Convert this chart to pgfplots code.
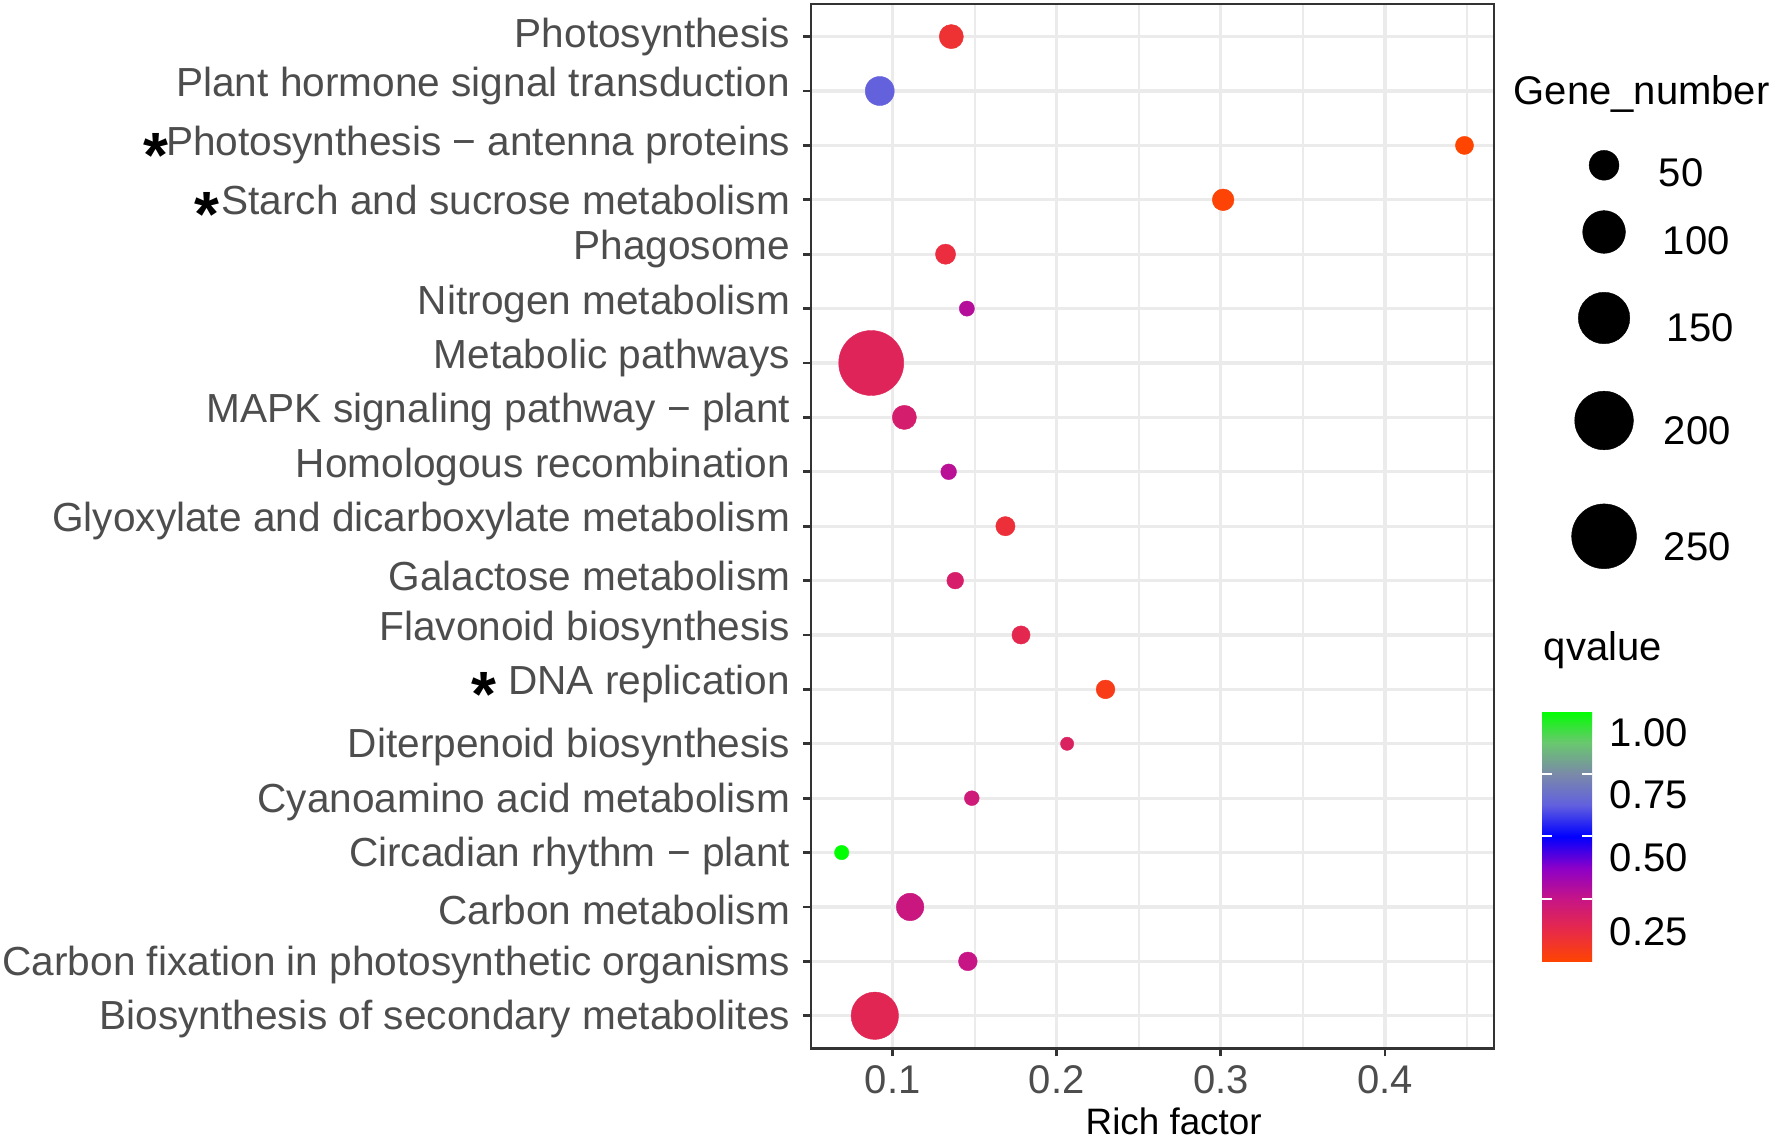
\documentclass[border=0pt]{standalone}
\usepackage{pgfplots}
\pgfplotsset{compat=1.18}
\usepackage{fontspec}
\setmainfont{Liberation Sans}
\definecolor{gridc}{HTML}{EBEBEB}
\definecolor{axc}{HTML}{333333}
\definecolor{txtc}{HTML}{4D4D4D}
\newcommand{\stm}{{\color{black}\raisebox{-5.5pt}[0pt][0pt]{\fontsize{16}{16}\selectfont\bfseries *}}}
\newcommand{\up}[1]{\raisebox{1.25pt}[\height][\depth]{#1}}
\newcommand{\dn}[1]{\raisebox{-0.85pt}[\height][\depth]{#1}}
\pgfplotstableread{
y x n q
19 0.1357 37 0.09
18 0.0921 48 0.63
17 0.4485 29 0.0
16 0.3014 33 0.01
15 0.1322 31 0.11
14 0.1452 27.3 0.29
13 0.0869 252 0.16
12 0.1071 37 0.20
11 0.1341 27.5 0.28
10 0.1687 30 0.10
9 0.1381 28 0.195
8 0.1782 29 0.14
7 0.2297 29.5 0.04
6 0.2063 27 0.174
5 0.1482 27.2 0.223
4 0.0689 27.1 1.0
3 0.1106 44 0.24
2 0.1458 29.5 0.25
1 0.0891 125 0.15
}\genedata
\pgfplotstableread{
x y n
1604 165.3 50
1604 232 100
1604 318 150
1604 420.5 200
1604 536.3 250
}\sizelegend
\begin{document}
\begin{tikzpicture}
\path (0,0) rectangle (443.5pt,285.5pt);
\begin{axis}[
  at={(202.75pt,23.4pt)}, anchor=south west,
  scale only axis, width=170.75pt, height=261.1pt,
  xmin=0.0502, xmax=0.4665, ymin=0.4, ymax=19.6,
  xtick={0.1,0.2,0.3,0.4},
  minor xtick={0.15,0.25,0.35,0.45},
  ytick={1,...,19},
  yticklabels={
    {\dn{Biosynthesis of secondary metabolites}},
    {\dn{Carbon fixation in photosynthetic organisms}},
    {\dn{Carbon metabolism}},
    {\dn{Circadian rhythm − plant}},
    {\dn{Cyanoamino acid metabolism}},
    {\dn{Diterpenoid biosynthesis}},
    {\up{\stm\ DNA replication}},
    {\up{Flavonoid biosynthesis}},
    {\up{Galactose metabolism}},
    {\up{Glyoxylate and dicarboxylate metabolism}},
    {\up{Homologous recombination}},
    {\up{MAPK signaling pathway − plant}},
    {\up{Metabolic pathways}},
    {\up{Nitrogen metabolism}},
    {\up{Phagosome}},
    {\stm\kern0.6pt Starch and sucrose metabolism},
    {\stm\kern-0.6pt Photosynthesis − antenna proteins},
    {\up{Plant hormone signal transduction}},
    Photosynthesis},
  /pgf/number format/assume math mode=true,
  xtick pos=bottom, ytick pos=left,
  grid=both,
  major grid style={gridc, line width=0.8pt},
  minor grid style={gridc, line width=0.45pt},
  axis line style={axc, line width=0.7pt},
  tick align=outside,
  major tick length=2pt,
  minor tick length=0pt,
  tick style={axc, line width=0.7pt},
  ticklabel style={text=txtc},
  xticklabel style={font=\fontsize{10}{12}\selectfont, anchor=north, inner sep=0pt, yshift=-2.2pt},
  yticklabel style={font=\fontsize{10.15}{12}\selectfont, anchor=east, inner sep=0pt, xshift=-3.0pt},
  xlabel={Rich factor},
  xlabel style={at={(axis description cs:0.531,0)}, anchor=base, yshift=-21.5pt, inner sep=0pt, font=\fontsize{9.2}{11}\selectfont, text=black},
  point meta min=0, point meta max=1,
  colormap={qmap}{
    rgb255(0)=(255,69,0)
    rgb255(1)=(232,42,72)
    rgb255(2)=(199,21,133)
    rgb255(3)=(140,0,200)
    rgb255(4)=(0,0,255)
    rgb255(5)=(98,96,222)
    rgb255(6)=(122,138,168)
    rgb255(7)=(105,200,110)
    rgb255(8)=(0,255,0)
  },
  colorbar,
  colorbar style={
    at={(parent axis.south east)}, anchor=south west,
    xshift=3.5pt, yshift=21.6pt,
    scale only axis, width=12.5pt, height=62.75pt,
    grid=none,
    ytick={0.25,0.5,0.75}, yticklabels={},
    axis line style={draw=none},
    ytick pos=both,
    tick align=inside, major tick length=2.5pt,
    tick style={white, line width=0.5pt},
  },
]
\addplot[scatter, only marks, mark=*,
  point meta=explicit,
  visualization depends on={\thisrow{n} \as \gn},
  scatter/use mapped color={draw=mapped color, fill=mapped color},
  scatter/@pre marker code/.append style={/tikz/mark size={(13.3+51.7*sqrt((\gn-27)/225))/8}},
  mark options={line width=0.1pt},
] table[x=x, y=y, meta=q] {\genedata};
\end{axis}
\begin{axis}[
  at={(0pt,0pt)}, anchor=south west,
  scale only axis, width=443.5pt, height=285.5pt,
  xmin=0, xmax=1774, ymin=0, ymax=1142, y dir=reverse,
  hide axis, clip=false,
]
\addplot[scatter, only marks, mark=*,
  visualization depends on={\thisrow{n} \as \gn},
  scatter/use mapped color={draw=black, fill=black},
  scatter/@pre marker code/.append style={/tikz/mark size={(13.3+51.7*sqrt((\gn-27)/225))/8}},
  mark options={line width=0.1pt},
] table[x=x, y=y] {\sizelegend};
\begin{scope}[every node/.style={font=\fontsize{10}{12}\selectfont, text=black, inner sep=0pt}]
\node[anchor=base west] at (axis cs:1513,105) {Gene\_number};
\node[anchor=base west] at (axis cs:1658,186.7) {50};
\node[anchor=base west] at (axis cs:1662,255) {100};
\node[anchor=base west] at (axis cs:1666,341.7) {150};
\node[anchor=base west] at (axis cs:1663,445) {200};
\node[anchor=base west] at (axis cs:1663,560) {250};
\node[anchor=base west] at (axis cs:1543,660) {qvalue};
\node[anchor=base west] at (axis cs:1609,746) {1.00};
\node[anchor=base west] at (axis cs:1609,808.3) {0.75};
\node[anchor=base west] at (axis cs:1609,871.7) {0.50};
\node[anchor=base west] at (axis cs:1609,945) {0.25};
\end{scope}
\end{axis}
\end{tikzpicture}
\end{document}
